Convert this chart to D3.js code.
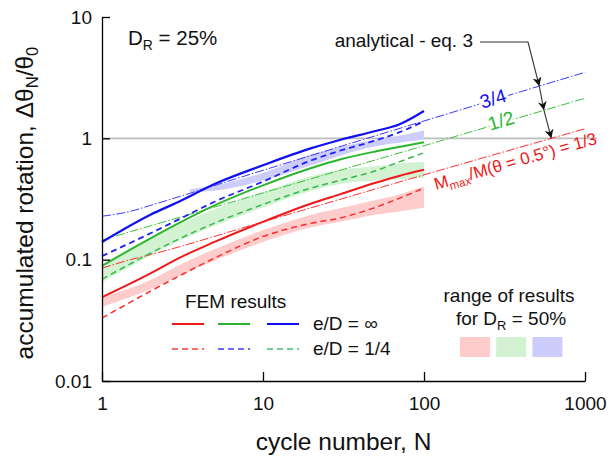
<!DOCTYPE html>
<html>
<head>
<meta charset="utf-8">
<script src="https://cdn.jsdelivr.net/npm/d3@7"></script>
<style>
  body { margin: 0; background: #fff; }
  text { font-family: "Liberation Sans", Arial, sans-serif; }
</style>
</head>
<body>
<svg id="chart" width="611" height="459"></svg>
<script>
// FEM results, D_R = 25%
const cycles = [1, 2, 3, 5, 10, 20, 30, 50, 70, 100];
const blueInf = [0.14, 0.235, 0.30, 0.42, 0.60, 0.83, 0.97, 1.15, 1.30, 1.68];
const blueQuarter = [0.107, 0.165, 0.215, 0.30, 0.44, 0.66, 0.79, 0.96, 1.12, 1.38];
const greenInf = [0.089, 0.15, 0.20, 0.28, 0.41, 0.57, 0.67, 0.78, 0.85, 0.93];
const greenQuarter = [0.069, 0.113, 0.148, 0.20, 0.285, 0.39, 0.45, 0.54, 0.64, 0.76];
const redInf = [0.049, 0.077, 0.103, 0.14, 0.205, 0.29, 0.345, 0.43, 0.49, 0.55];
const redQuarter = [0.033, 0.055, 0.073, 0.103, 0.155, 0.20, 0.22, 0.27, 0.32, 0.39];

// range of results for D_R = 50%
const blueBandN = [3.5, 5, 10, 20, 30, 50, 70, 100];
const blueBandLo = [0.36, 0.37, 0.45, 0.60, 0.72, 0.86, 0.92, 0.98];
const blueBandHi = [0.38, 0.41, 0.52, 0.74, 0.85, 0.98, 1.05, 1.16];
const greenBandLo = [0.065, 0.108, 0.142, 0.19, 0.27, 0.37, 0.42, 0.45, 0.46, 0.47];
const greenBandHi = [0.087, 0.15, 0.195, 0.26, 0.36, 0.49, 0.55, 0.59, 0.62, 0.64];
const redBandLo = [0.041, 0.057, 0.073, 0.098, 0.14, 0.185, 0.205, 0.235, 0.25, 0.268];
const redBandHi = [0.049, 0.068, 0.09, 0.122, 0.175, 0.235, 0.265, 0.31, 0.345, 0.40];

// analytical - eq. 3
const anaN = [1, 1.5, 2, 10, 100, 1000];
const anaBlue = [0.228, 0.25, 0.28, 0.545, 1.39, 3.5];
const anaGreen = [0.145, 0.17, 0.19, 0.355, 0.87, 2.14];
const anaRed = [0.085, 0.1, 0.11, 0.205, 0.50, 1.20];

const xTicks = [1, 10, 100, 1000];
const yTicks = [0.01, 0.1, 1, 10];

const RED = "#f01818", GREEN = "#2cb52c", BLUE = "#1010f0";

const svg = d3.select("#chart");
const x = d3.scaleLog().domain([1, 1000]).range([102, 585]);
const y = d3.scaleLog().domain([0.01, 10]).range([381, 17]);

function minors(lo, hi) {
  let out = [];
  for (let d = lo; d < hi; d *= 10)
    for (let k = 2; k <= 9; k++) out.push(d * k);
  return out;
}

// reference line at 1
svg.append("line")
  .attr("x1", x(1)).attr("x2", x(1000) + 12)
  .attr("y1", y(1)).attr("y2", y(1))
  .attr("stroke", "#bdbdbd").attr("stroke-width", 1.6);

// bands
function band(ns, lo, hi, color) {
  const area = d3.area()
    .x((d, i) => x(ns[i]))
    .y0((d, i) => y(lo[i]))
    .y1((d, i) => y(hi[i]))
    .curve(d3.curveMonotoneX);
  svg.append("path").datum(ns).attr("d", area).attr("fill", color);
}
band(cycles, redBandLo, redBandHi, "#ffcccc");
band(cycles, greenBandLo, greenBandHi, "#d2f2d2");
band(blueBandN, blueBandLo, blueBandHi, "#cdcdfb");

function curve(ns, vals, color, width, dash) {
  const line = d3.line()
    .x((d, i) => x(ns[i]))
    .y((d, i) => y(vals[i]))
    .curve(d3.curveMonotoneX);
  svg.append("path").datum(ns).attr("d", line)
    .attr("fill", "none").attr("stroke", color)
    .attr("stroke-width", width)
    .attr("stroke-dasharray", dash || null);
}

// analytical lines (thin dash-dot)
curve(anaN, anaBlue, "#3a3aff", 1, "9,2,1.5,2");
curve(anaN, anaGreen, "#3cc03c", 1, "9,2,1.5,2");
curve(anaN, anaRed, "#ff3030", 1, "9,2,1.5,2");

// FEM curves
curve(cycles, redQuarter, "#ff2a2a", 1.5, "6,4");
curve(cycles, greenQuarter, "#34b850", 1.5, "6,4");
curve(cycles, blueQuarter, "#2020ff", 1.8, "6,4");
curve(cycles, redInf, RED, 2);
curve(cycles, greenInf, GREEN, 2);
curve(cycles, blueInf, BLUE, 2.2);

// axes
const font = 19;
const gx = svg.append("g").attr("transform", `translate(0,${y(0.01)})`);
gx.call(d3.axisBottom(x).tickValues(minors(1, 1000)).tickSize(-5).tickSizeOuter(0).tickFormat(""));
gx.call(d3.axisBottom(x).tickValues(xTicks).tickSize(-9).tickSizeOuter(0).tickPadding(16).tickFormat(d3.format("")));
const gy = svg.append("g").attr("transform", `translate(${x(1)},0)`);
gy.call(d3.axisLeft(y).tickValues(minors(0.01, 10)).tickSize(-5).tickSizeOuter(0).tickFormat(""));
gy.call(d3.axisLeft(y).tickValues(yTicks).tickSize(-8).tickSizeOuter(0).tickPadding(10).tickFormat(d => d3.format("")(d)));
svg.selectAll(".domain, .tick line").attr("stroke", "#000").attr("stroke-width", 1.3);
svg.selectAll(".tick text").attr("font-size", font).attr("fill", "#111")
  .style("font-family", "'Liberation Sans', Arial, sans-serif");

// axis titles
svg.append("text").attr("x", (x(1) + x(1000)) / 2).attr("y", 450)
  .attr("text-anchor", "middle").attr("font-size", 24.5).attr("fill", "#111")
  .text("cycle number, N");

const yt = svg.append("text")
  .attr("transform", `translate(33,${(y(0.01) + y(10)) / 2 + 4}) rotate(-90)`)
  .attr("text-anchor", "middle").attr("font-size", 24.5).attr("fill", "#111");
yt.append("tspan").text("accumulated rotation, \u0394\u03b8");
yt.append("tspan").attr("font-size", "0.68em").attr("dy", 5).text("N");
yt.append("tspan").attr("dy", -5).text("/\u03b8");
yt.append("tspan").attr("font-size", "0.68em").attr("dy", 5).text("0");

// D_R label
const dr = svg.append("text").attr("x", 128).attr("y", 45).attr("font-size", 20.5).attr("fill", "#111");
dr.append("tspan").text("D");
dr.append("tspan").attr("font-size", "0.68em").attr("dy", 5).text("R");
dr.append("tspan").attr("dy", -5).text(" = 25%");

// line labels with white halo
function lineLabel(txt, cx, cy, ang, color) {
  return svg.append("text")
    .attr("transform", `translate(${cx},${cy}) rotate(${ang})`)
    .attr("text-anchor", "middle").attr("font-size", font)
    .attr("fill", color).attr("stroke", "#fff").attr("stroke-width", 5)
    .attr("paint-order", "stroke").text(txt);
}
lineLabel("3/4", 495, 105, -17, BLUE);
lineLabel("1/2", 503, 127, -17, GREEN);

const ml = svg.append("text")
  .attr("transform", "translate(436,190) rotate(-16)")
  .attr("font-size", 17).attr("fill", RED);
ml.append("tspan").text("M");
ml.append("tspan").attr("font-size", "0.68em").attr("dy", 4).text("max");
ml.append("tspan").attr("dy", -4).text("/M(\u03b8 = 0.5\u00b0) = 1/3");

// analytical annotation
svg.append("text").attr("x", 473).attr("y", 47).attr("text-anchor", "end")
  .attr("font-size", font).attr("fill", "#111").text("analytical - eq. 3");

svg.append("defs").append("marker")
  .attr("id", "arr").attr("viewBox", "0 0 10 10")
  .attr("refX", 10).attr("refY", 5)
  .attr("markerWidth", 9).attr("markerHeight", 9)
  .attr("markerUnits", "userSpaceOnUse")
  .attr("orient", "auto")
  .append("path").attr("d", "M0,0 L10,5 L0,10 L3,5 z").attr("fill", "#111");

function logInterp(ns, vals, n) {
  const ln = ns.map(Math.log10), lv = vals.map(Math.log10);
  const t = d3.scaleLinear().domain(ln).range(lv);
  return Math.pow(10, t(Math.log10(n)));
}
const tips = [[anaBlue, 520], [anaGreen, 556], [anaRed, 618]]
  .map(([vals, n]) => [x(n), y(logInterp(anaN, vals, n))]);
let prev = [528, 42];
svg.append("path").attr("d", `M480,42 L528,42`).attr("stroke", "#333").attr("fill", "none").attr("stroke-width", 1.1);
tips.forEach(t => {
  svg.append("path").attr("d", `M${prev[0]},${prev[1]} L${t[0]},${t[1]}`)
    .attr("stroke", "#333").attr("stroke-width", 1.1).attr("fill", "none")
    .attr("marker-end", "url(#arr)");
  prev = t;
});

// legend: FEM results
svg.append("text").attr("x", 185).attr("y", 308).attr("font-size", font).attr("fill", "#111").text("FEM results");
const legRows = [
  { y: 324, dash: null, w: 2, cols: [RED, GREEN, BLUE], label: "e/D = \u221e" },
  { y: 349, dash: "6,4", w: 1.5, cols: ["#ff3a3a", "#3a3aff", "#44c070"], label: "e/D = 1/4" }
];
const legX = [172, 218, 267];
legRows.forEach(r => {
  r.cols.forEach((c, i) => {
    svg.append("line").attr("x1", legX[i]).attr("x2", legX[i] + 32)
      .attr("y1", r.y).attr("y2", r.y).attr("stroke", c)
      .attr("stroke-width", r.w).attr("stroke-dasharray", r.dash);
  });
  svg.append("text").attr("x", 313).attr("y", r.y + 6).attr("font-size", font).attr("fill", "#111").text(r.label);
});

// legend: range of results
svg.append("text").attr("x", 509).attr("y", 302).attr("text-anchor", "middle")
  .attr("font-size", font).attr("fill", "#111").text("range of results");
const rr = svg.append("text").attr("x", 511).attr("y", 325).attr("text-anchor", "middle")
  .attr("font-size", font).attr("fill", "#111");
rr.append("tspan").text("for D");
rr.append("tspan").attr("font-size", "0.68em").attr("dy", 5).text("R");
rr.append("tspan").attr("dy", -5).text(" = 50%");
["#ffcccc", "#d2f2d2", "#cdcdfb"].forEach((c, i) => {
  svg.append("rect").attr("x", 460 + i * 36.2).attr("y", 337)
    .attr("width", 30).attr("height", 20).attr("fill", c);
});
</script>
</body>
</html>
